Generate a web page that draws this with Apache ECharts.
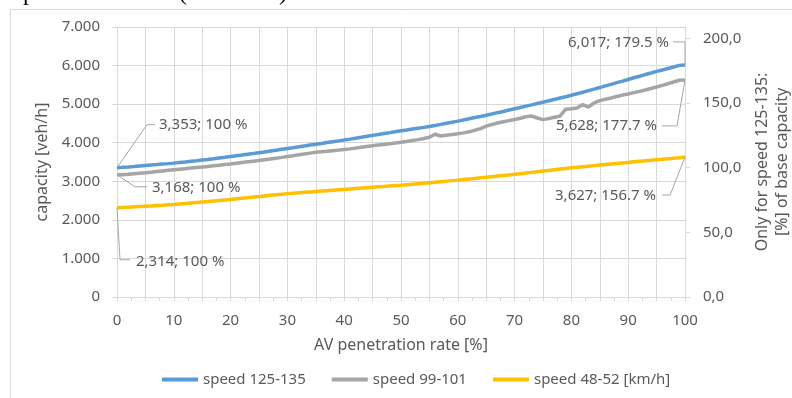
<!DOCTYPE html>
<html>
<head>
<meta charset="utf-8">
<script src="https://cdn.jsdelivr.net/npm/echarts@6/dist/echarts.min.js"></script>
<style>
html,body{margin:0;padding:0;background:#fff;}
#chart{width:792px;height:398px;}
</style>
</head>
<body>
<div id="chart"></div>
<script>
// AV penetration rate [%]
const penetration = [
  0,1,2,3,4,5,6,7,8,9,
  10,11,12,13,14,15,16,17,18,19,
  20,21,22,23,24,25,26,27,28,29,
  30,31,32,33,34,35,36,37,38,39,
  40,41,42,43,44,45,46,47,48,49,
  50,51,52,53,54,55,56,57,58,59,
  60,61,62,63,64,65,66,67,68,69,
  70,71,72,73,74,75,76,77,78,79,
  80,81,82,83,84,85,86,87,88,89,
  90,91,92,93,94,95,96,97,98,99,
  100
];
// capacity [veh/h]
const speed125_135 = [
  3353,3361,3371,3383,3396,3409,3421,3433,3446,3458,
  3471,3486,3501,3517,3533,3550,3567,3585,3604,3622,
  3641,3660,3679,3700,3720,3741,3762,3783,3806,3828,
  3850,3871,3893,3916,3939,3960,3981,4004,4027,4048,
  4070,4093,4118,4141,4166,4190,4213,4238,4261,4286,
  4310,4331,4354,4377,4398,4420,4447,4476,4503,4531,
  4560,4591,4621,4653,4680,4711,4743,4779,4811,4847,
  4880,4912,4949,4981,5017,5050,5087,5121,5159,5193,
  5230,5271,5309,5351,5389,5430,5473,5513,5557,5597,
  5640,5683,5723,5767,5807,5850,5887,5923,5963,6005,
  6017
];
const speed99_101 = [
  3168,3170,3182,3195,3207,3220,3236,3252,3268,3284,
  3300,3314,3328,3342,3356,3370,3386,3402,3418,3434,
  3450,3468,3486,3504,3522,3540,3560,3580,3600,3620,
  3642,3664,3686,3710,3730,3750,3764,3778,3794,3808,
  3822,3840,3860,3880,3900,3920,3938,3956,3974,3992,
  4010,4034,4058,4080,4110,4140,4220,4175,4196,4212,
  4230,4255,4282,4322,4365,4430,4472,4510,4545,4572,
  4600,4635,4672,4690,4640,4598,4625,4660,4690,4870,
  4880,4902,4990,4925,5030,5090,5125,5160,5200,5235,
  5265,5298,5332,5368,5405,5445,5487,5530,5575,5620,
  5628
];
const speed48_52 = [
  2314,2322,2330,2338,2346,2354,2362,2370,2378,2390,
  2400,2413,2426,2439,2452,2465,2478,2491,2504,2517,
  2530,2545,2560,2575,2590,2605,2620,2635,2650,2665,
  2680,2691,2702,2713,2724,2735,2746,2757,2768,2779,
  2790,2801,2812,2823,2834,2845,2856,2867,2878,2889,
  2900,2913,2926,2939,2952,2965,2978,2991,3004,3017,
  3030,3045,3060,3075,3090,3105,3120,3135,3150,3165,
  3180,3197,3214,3231,3248,3265,3282,3299,3316,3333,
  3350,3364,3378,3392,3406,3420,3434,3448,3462,3476,
  3490,3504,3518,3531,3545,3559,3572,3586,3600,3613,
  3627
];
const seriesNames = ['speed 125-135', 'speed 99-101', 'speed 48-52 [km/h]'];
const seriesColors = ['#5B9BD5', '#A5A5A5', '#FFC000'];
const leftTicks = [0,1000,2000,3000,4000,5000,6000,7000];

const allSeries = [speed125_135, speed99_101, speed48_52];
const baseCapacity = speed125_135[0];
const rightMax = leftTicks[leftTicks.length - 1] / baseCapacity * 100;

function fmtCap(v) {
  return (v / 1000).toFixed(3).replace('.', ',');
}
// annotations: start and end of each series
const annoData = [];
const annoText = [];
[0, penetration.length - 1].forEach(function (idx) {
  allSeries.forEach(function (arr) {
    annoData.push([penetration[idx], arr[idx]]);
    const pct = arr[idx] / arr[0] * 100;
    const pctStr = idx === 0 ? '100' : pct.toFixed(1);
    annoText.push(fmtCap(arr[idx]) + '; ' + pctStr + ' %');
  });
});
// label placement (pixel offsets from the annotated point)
const annoLayout = [
  {pts: [[30, -43], [38, -43]], tx: 42, ty: -43, align: 'left'},
  {pts: [[18, 12], [30, 12]], tx: 35, ty: 12.5, align: 'left'},
  {pts: [[3, 52], [13, 52]], tx: 19, ty: 54, align: 'left'},
  {pts: [[0, -23], [-12, -23]], tx: -16, ty: -22, align: 'right'},
  {pts: [[-8, 46], [-23, 46]], tx: -28, ty: 46, align: 'right'},
  {pts: [[-15, 38], [-23, 38]], tx: -29, ty: 39, align: 'right'}
];

const FONT = '"Noto Sans", sans-serif';
const TXT = '#595959';
const GRID = '#d9d9d9';

const chart = echarts.init(document.getElementById('chart'), null, {renderer: 'canvas'});

const lineSeries = allSeries.map(function (arr, i) {
  return {
    name: seriesNames[i],
    type: 'line',
    data: penetration.map(function (x, k) { return [x, arr[k]]; }),
    showSymbol: false,
    symbol: 'none',
    lineStyle: {color: seriesColors[i], width: 3.5},
    itemStyle: {color: seriesColors[i]},
    z: 3 + i,
    animation: false
  };
});

const option = {
  animation: false,
  backgroundColor: '#fff',
  textStyle: {fontFamily: FONT},
  graphic: [
    {type: 'rect', shape: {x: 10.5, y: 9.5, width: 900, height: 500}, style: {fill: null, stroke: GRID, lineWidth: 1}, z: -1, silent: true},
    {type: 'text', style: {text: 'penetration rate (0...100 %)', x: 287, y: 6, align: 'right', verticalAlign: 'bottom', textAlign: 'right', textVerticalAlign: 'bottom', font: '24px "Liberation Serif", serif', fill: '#000'}, silent: true}
  ],
  grid: {left: 117, right: 107, top: 27, bottom: 101, containLabel: false, outerBoundsMode: 'none'},
  legend: {
    data: seriesNames,
    left: 157,
    top: 367,
    icon: 'rect',
    itemWidth: 36,
    itemHeight: 4,
    itemGap: 26,
    textStyle: {color: TXT, fontSize: 15, fontFamily: FONT}
  },
  xAxis: {
    type: 'value',
    min: 0,
    max: 100,
    interval: 5,
    name: 'AV penetration rate [%]',
    nameLocation: 'middle',
    nameGap: 40,
    nameTextStyle: {color: TXT, fontSize: 16, fontFamily: FONT},
    axisLine: {show: true, lineStyle: {color: GRID, width: 1}},
    axisTick: {show: true, length: 4, lineStyle: {color: GRID}},
    minorTick: {show: true, splitNumber: 2, length: 4, lineStyle: {color: GRID}},
    splitLine: {show: true, lineStyle: {color: GRID, width: 1}},
    axisLabel: {
      color: TXT, fontSize: 15, fontFamily: FONT, margin: 16,
      formatter: function (v) { return v % 10 === 0 ? String(v) : ''; }
    }
  },
  yAxis: [
    {
      type: 'value',
      min: leftTicks[0],
      max: leftTicks[leftTicks.length - 1],
      interval: 1000,
      name: 'capacity [veh/h]',
      nameLocation: 'middle',
      nameGap: 58,
      nameTextStyle: {color: TXT, fontSize: 16, fontFamily: FONT},
      axisLine: {show: true, lineStyle: {color: GRID}},
      axisTick: {show: true, length: 5, lineStyle: {color: GRID}},
      splitLine: {show: true, lineStyle: {color: GRID, width: 1}},
      axisLabel: {
        color: TXT, fontSize: 15, fontFamily: FONT, margin: 17,
        formatter: function (v) { return v === 0 ? '0' : (v / 1000).toFixed(3); }
      }
    },
    {
      type: 'value',
      min: 0,
      max: rightMax,
      interval: 50,
      position: 'right',
      name: 'Only for speed 125-135:\n[%] of base capacity',
      nameLocation: 'middle',
      nameRotate: 90,
      nameGap: 66,
      nameTextStyle: {color: TXT, fontSize: 16, fontFamily: FONT, lineHeight: 20},
      axisLine: {show: true, lineStyle: {color: GRID}},
      axisTick: {show: true, length: 5, lineStyle: {color: GRID}},
      splitLine: {show: false},
      axisLabel: {
        color: TXT, fontSize: 15, fontFamily: FONT, margin: 18,
        showMaxLabel: false,
        formatter: function (v) { return v.toFixed(1).replace('.', ','); }
      }
    }
  ],
  series: lineSeries.concat([{
    type: 'custom',
    name: 'labels',
    data: annoData,
    clip: false,
    silent: true,
    z: 10,
    renderItem: function (params, api) {
      const p = api.coord([api.value(0), api.value(1)]);
      const L = annoLayout[params.dataIndex];
      const pts = [p].concat(L.pts.map(function (o) { return [p[0] + o[0], p[1] + o[1]]; }));
      return {
        type: 'group',
        children: [
          {type: 'polyline', shape: {points: pts}, style: {stroke: '#a6a6a6', lineWidth: 1, fill: null}},
          {type: 'text', style: {
            text: annoText[params.dataIndex],
            x: p[0] + L.tx, y: p[1] + L.ty,
            align: L.align, verticalAlign: 'middle',
            textAlign: L.align, textVerticalAlign: 'middle',
            fill: TXT, font: '15px ' + FONT
          }}
        ]
      };
    }
  }])
};
chart.setOption(option);
</script>
</body>
</html>
